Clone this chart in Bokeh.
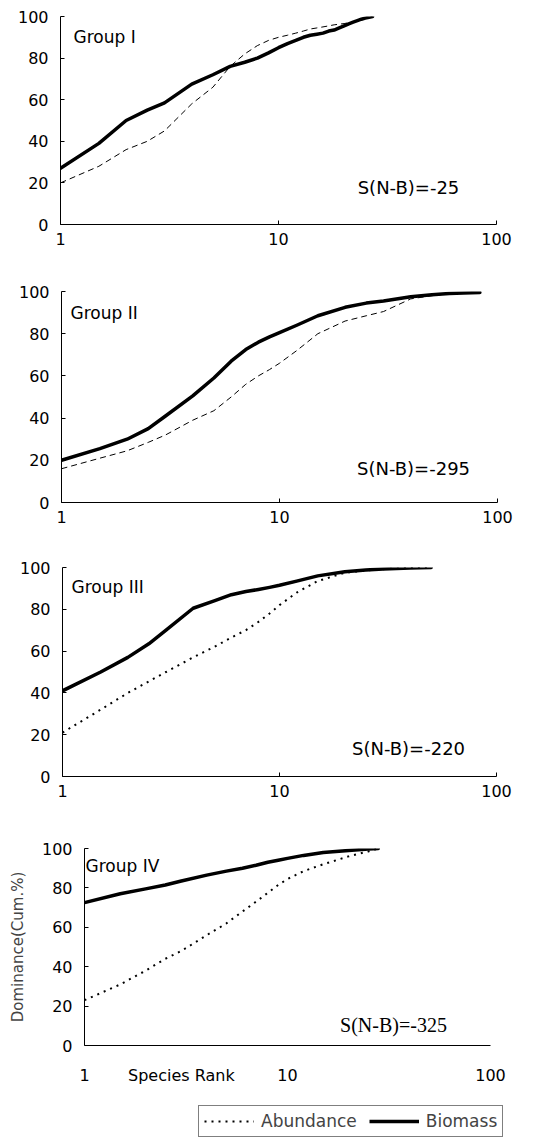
from bokeh.plotting import figure
from bokeh.layouts import column
from bokeh.models import Range1d, FixedTicker, PrintfTickFormatter, Label, Legend, LegendItem
from bokeh.embed import file_html
from bokeh.resources import INLINE

# ---- data ----
groups = ["Group I", "Group II", "Group III", "Group IV"]
snb = ["S(N-B)=-25", "S(N-B)=-295", "S(N-B)=-220", "S(N-B)=-325"]
series_names = ["Abundance", "Biomass"]

g1_rank = [1, 1.5, 2, 2.5, 3, 4, 5, 6, 7, 8, 9, 10, 11, 12, 13, 14, 15, 16, 17, 18, 19, 20,
           21, 22, 23, 24, 25, 26, 27]
g1_abund = [20, 28, 36, 40, 45, 58, 66, 76, 82, 86, 88.5, 90, 91, 92, 93, 94, 94.5, 95, 95.5, 96,
            96.3, 96.6, 97, 97.5, 98, 98.5, 99, 99.5, 100]
g1_biom = [27, 39, 50, 55, 58.5, 67.5, 72, 76, 78, 80, 82.5, 85, 87, 88.5, 90, 91, 91.5, 92, 93,
           93.5, 94.5, 95.5, 96.5, 97.3, 98, 98.7, 99.2, 99.6, 100]

g2_rank = [1, 1.5, 2, 2.5, 3, 4, 5, 6, 7, 8, 9, 10, 12, 15, 20, 25, 30, 40, 50, 60, 70, 83]
g2_abund = [16, 21, 24.5, 28.5, 32, 39, 43.5, 50, 56, 60, 63, 66, 72, 80, 86, 88.5, 90.5, 96.5,
            98, 99, 99.3, 99.5]
g2_biom = [20, 25.5, 30, 35, 41, 50.5, 59, 67, 72.5, 76, 78.5, 80.5, 84, 88.5, 92.5, 94.5, 95.5,
           97.5, 98.5, 99, 99.3, 99.5]

g3_rank = [1, 1.5, 2, 2.5, 3, 4, 5, 6, 7, 8, 9, 10, 12, 15, 20, 25, 30, 40, 50]
g3_abund = [21, 32, 40, 45.5, 50, 57, 62, 66.5, 70, 74, 78, 82, 88, 93.5, 97.5, 98.6, 99.2, 99.8, 100]
g3_biom = [41, 50, 57, 63.5, 70, 80.5, 84, 87, 88.5, 89.5, 90.5, 91.5, 93.5, 96, 98, 98.8, 99.3,
           99.8, 100]

g4_rank = [1, 1.5, 2, 2.5, 3, 4, 5, 6, 7, 8, 9, 10, 12, 15, 20, 25, 28]
g4_abund = [23, 31, 38, 44, 48, 56, 62, 68, 73, 77.5, 81.5, 84.5, 88.5, 92, 96, 98.5, 100]
g4_biom = [72.5, 77, 79.5, 81.5, 83.5, 86.5, 88.5, 90, 91.5, 93, 94, 95, 96.5, 98, 99, 99.7, 100]

x_ticks = [1, 10, 100]
y_ticks = [0, 20, 40, 60, 80, 100]
x_title_tick = 3          # where "Species Rank" sits along the axis of the last panel

FONT = "DejaVu Sans"
DOTTED = "2 5"
DASHED = "6 4"

def make_panel(idx, rank, abund, biom, height, left, right, top, bottom,
               dash, dash_w, grp_xy, snb_xy, snb_font, x_standoff):
    p = figure(width=556, height=height, x_axis_type="log",
               x_range=Range1d(1, 100), y_range=Range1d(0, 100),
               output_backend="svg", toolbar_location=None, frame_align=False,
               min_border_left=left, min_border_right=right,
               min_border_top=top, min_border_bottom=bottom)
    p.outline_line_color = None
    p.grid.visible = False
    p.background_fill_color = "white"
    p.border_fill_color = "white"
    for ax in (p.xaxis[0], p.yaxis[0]):
        ax.axis_line_color = "black"
        ax.axis_line_width = 1
        ax.major_tick_in = 4
        ax.major_tick_out = 0
        ax.minor_tick_line_color = None
        ax.major_tick_line_color = "black"
        ax.major_label_text_font = FONT
        ax.major_label_text_font_size = "16px"
        ax.major_label_text_color = "black"
    p.xaxis.ticker = FixedTicker(ticks=x_ticks)
    p.xaxis.formatter = PrintfTickFormatter(format="%d")
    p.xaxis.major_label_standoff = x_standoff
    p.yaxis.ticker = FixedTicker(ticks=y_ticks)
    p.yaxis.major_label_standoff = 12

    p.line(rank, abund, line_color="black", line_width=dash_w, line_dash=dash)
    p.line(rank, biom, line_color="black", line_width=3.5, line_join="round", line_cap="round")

    p.add_layout(Label(x=grp_xy[0], y=grp_xy[1], x_units="screen", y_units="screen",
                       text=groups[idx], text_font=FONT, text_font_size="17px",
                       text_baseline="middle", text_align="left", text_color="black"))
    p.add_layout(Label(x=snb_xy[0], y=snb_xy[1], x_units="screen", y_units="screen",
                       text=snb[idx], text_font=snb_font[0], text_font_size=snb_font[1],
                       text_baseline="middle", text_align="center", text_color="black"))
    return p

p1 = make_panel(0, g1_rank, g1_abund, g1_biom, 275, 60, 60, 16, 51,
                DASHED, 1, (13, 188), (348, 37), (FONT, "18px"), 8)
p2 = make_panel(1, g2_rank, g2_abund, g2_biom, 276, 61, 59, 16, 49,
                DASHED, 1, (9, 190), (352, 34), (FONT, "18px"), 8)
p3 = make_panel(2, g3_rank, g3_abund, g3_biom, 281, 62, 60, 16, 56,
                DOTTED, 2, (9, 190), (346, 28), (FONT, "18px"), 8)
p4 = make_panel(3, g4_rank, g4_abund, g4_biom, 268, 84, 66, 16, 55,
                DOTTED, 2, (1, 180), (309, 21), ("Liberation Serif", "20px"), 20)

p4.yaxis.axis_label = "Dominance(Cum.%)"
p4.yaxis.axis_label_text_font = FONT
p4.yaxis.axis_label_text_font_size = "15px"
p4.yaxis.axis_label_text_font_style = "normal"
p4.yaxis.axis_label_standoff = 12

p4.xaxis.ticker = FixedTicker(ticks=x_ticks + [x_title_tick])
p4.xaxis.major_label_overrides = {x_title_tick: "Species Rank"}
p4.xaxis.major_tick_in = 0

# ---- legend strip (its two proxy lines use the Group IV series, kept off-view) ----
p5 = figure(width=556, height=38, x_axis_type=None, y_axis_type=None,
            x_range=Range1d(0, 1), y_range=Range1d(-2, -1),
            output_backend="svg", toolbar_location=None, frame_align=False,
            min_border_left=0, min_border_right=0, min_border_top=0, min_border_bottom=0)
p5.outline_line_color = None
p5.grid.visible = False
p5.border_fill_color = "white"
p5.background_fill_color = "white"
la = p5.line(g4_rank, g4_abund, line_color="black", line_width=2, line_dash=DOTTED)
lb = p5.line(g4_rank, g4_biom, line_color="black", line_width=3.5)
legend = Legend(items=[LegendItem(label=series_names[0], renderers=[la]),
                       LegendItem(label=series_names[1], renderers=[lb])],
                orientation="horizontal", location=(198, 1),
                border_line_color="black", border_line_width=1,
                background_fill_color="white", background_fill_alpha=1,
                label_text_font=FONT, label_text_font_size="17px",
                glyph_width=50, glyph_height=18, label_standoff=7,
                spacing=12, padding=5, margin=0)
p5.add_layout(legend, "center")

layout = column(p1, p2, p3, p4, p5, spacing=0)
open("out.html", "w").write(file_html(layout, INLINE))
